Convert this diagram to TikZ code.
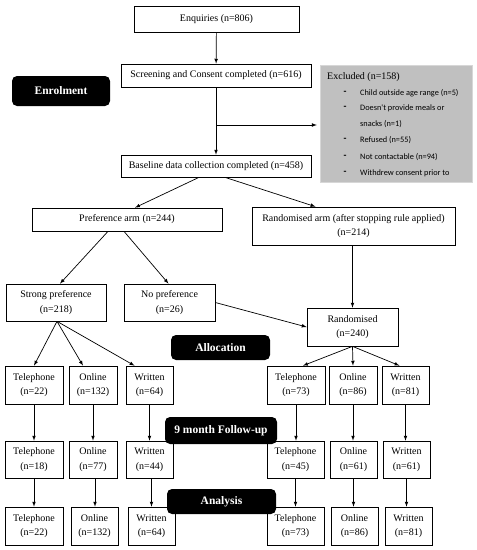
\documentclass[tikz,border=0pt]{standalone}
\usepackage{fontspec}
\setmainfont{Liberation Serif}
\newfontfamily\listfont{Carlito}
\usepackage{xcolor}
\definecolor{excludedgray}{RGB}{192,192,192}
\definecolor{excludedrim}{RGB}{215,215,215}
\tikzstyle{box}=[draw, line width=0.7pt, inner sep=0pt, align=center, font=\fontsize{10}{14.5}\selectfont]
\tikzstyle{stage}=[fill=black, rounded corners=5pt, inner sep=0pt, text=white, font=\fontsize{11.5}{13}\selectfont\bfseries]
\tikzset{flow/.style={-latex, line width=0.7pt}}
\tikzset{exitem/.style={anchor=west, inner sep=0pt, font=\listfont\fontsize{8.3}{10}\selectfont}}
\tikzset{exdash/.style={inner sep=0pt, font=\listfont\fontsize{9.5}{10}\selectfont\bfseries}}

\begin{document}
\begin{tikzpicture}[x=1pt,y=-1pt]
  \useasboundingbox (0,0) rectangle (477,550);

  %% Enrolment
  \draw (216.5,19) node[box,minimum width=165pt,minimum height=26pt] (enq) {Enquiries (n=806)};
  \draw (216,75.5) node[box,minimum width=190pt,minimum height=23pt] (scr) {Screening and Consent completed (n=616)};
  \draw (216,166) node[box,minimum width=190pt,minimum height=22pt] (base) {Baseline data collection completed (n=458)};
  \draw (61,91) node[stage,minimum width=98pt,minimum height=30pt] (enrol) {Enrolment};

  \draw (396,123.5) node[fill=excludedgray,draw=excludedrim,minimum width=152pt,minimum height=117pt] (excl) {};
  \draw (327,77) node[anchor=west,inner sep=0pt,font=\fontsize{10}{12}\selectfont] (exhead) {Excluded (n=158)};
  \draw (345,93) node[exdash] (ex1) {-};
  \draw (360,93) node[exitem] (ex1t) {Child outside age range (n=5)};
  \draw (345,108) node[exdash] (ex2) {-};
  \draw (360,108) node[exitem] (ex2t) {Doesn't provide meals or};
  \draw (360,124) node[exitem] (ex2u) {snacks (n=1)};
  \draw (345,140) node[exdash] (ex3) {-};
  \draw (360,140) node[exitem] (ex3t) {Refused (n=55)};
  \draw (345,157) node[exdash] (ex4) {-};
  \draw (360,157) node[exitem] (ex4t) {Not contactable (n=94)};
  \draw (345,173) node[exdash] (ex5) {-};
  \draw (360,173) node[exitem] (ex5t) {Withdrew consent prior to};

  \coordinate (exbranch) at (216,125);
  \draw[flow] (enq) -- (scr);
  \draw[flow] (scr) -- (base);
  \draw[flow,shorten >=3pt] (exbranch) -- (excl.west |- exbranch);

  %% Arms
  \draw (127,219.5) node[box,minimum width=190pt,minimum height=23pt] (pref) {Preference arm (n=244)};
  \draw (353.5,226) node[box,minimum width=203pt,minimum height=38pt] (rarm) {Randomised arm (after stopping rule applied)\\(n=214)};
  \draw (56,302.5) node[box,minimum width=100pt,minimum height=37pt] (strong) {Strong preference\\(n=218)};
  \draw (169.5,302.5) node[box,minimum width=91pt,minimum height=37pt] (nopref) {No preference\\(n=26)};
  \draw (352.5,327) node[box,minimum width=91pt,minimum height=38pt] (rand) {Randomised\\(n=240)};

  \draw[flow] ([xshift=-17pt]base.south) -- ([xshift=8pt]pref.north);
  \draw[flow] ([xshift=9pt]base.south) -- ([xshift=-38pt]rarm.north);
  \draw[flow] ([xshift=-19pt]pref.south) -- ([xshift=4pt]strong.north);
  \draw[flow] ([xshift=-3pt]pref.south) -- ([xshift=-1pt]nopref.north);
  \draw[flow] (nopref.east) -- (rand.west);
  \draw[flow] (rarm.south -| rand.north) -- (rand.north);

  %% Allocation
  \draw (34,385) node[box,minimum width=58pt,minimum height=38pt] (tel1) {Telephone\\(n=22)};
  \draw (93,385) node[box,minimum width=48pt,minimum height=38pt] (onl1) {Online\\(n=132)};
  \draw (149.5,385) node[box,minimum width=47pt,minimum height=38pt] (wri1) {Written\\(n=64)};
  \draw (296,385) node[box,minimum width=58pt,minimum height=38pt] (rtel1) {Telephone\\(n=73)};
  \draw (353,385) node[box,minimum width=48pt,minimum height=38pt] (ronl1) {Online\\(n=86)};
  \draw (405.5,385) node[box,minimum width=47pt,minimum height=38pt] (rwri1) {Written\\(n=81)};
  \draw (220.5,347.5) node[stage,minimum width=99pt,minimum height=25pt] (alloc) {Allocation};

  \draw[flow] ([xshift=1pt]strong.south) -- (tel1.north);
  \draw[flow] ([xshift=1pt]strong.south) -- ([xshift=-10pt]onl1.north);
  \draw[flow] ([xshift=1pt]strong.south) -- ([xshift=-15pt]wri1.north);
  \draw[flow] (rand.south) -- ([xshift=7pt]rtel1.north);
  \draw[flow] (rand.south) -- (ronl1.north);
  \draw[flow] (rand.south) -- ([xshift=-6pt]rwri1.north);

  %% 9 month follow-up
  \draw (34,459.5) node[box,minimum width=58pt,minimum height=37pt] (tel2) {Telephone\\(n=18)};
  \draw (93,459.5) node[box,minimum width=48pt,minimum height=37pt] (onl2) {Online\\(n=77)};
  \draw (149.5,459.5) node[box,minimum width=47pt,minimum height=37pt] (wri2) {Written\\(n=44)};
  \draw (295.5,459.5) node[box,minimum width=57pt,minimum height=37pt] (rtel2) {Telephone\\(n=45)};
  \draw (353.5,459.5) node[box,minimum width=47pt,minimum height=37pt] (ronl2) {Online\\(n=61)};
  \draw (406.5,459.5) node[box,minimum width=47pt,minimum height=37pt] (rwri2) {Written\\(n=61)};
  \draw (221,430.5) node[stage,minimum width=112pt,minimum height=27pt] (follow) {9 month Follow-up};

  \draw[flow] (tel1) -- (tel2);
  \draw[flow] (onl1) -- (onl2);
  \draw[flow] (wri1) -- (wri2);
  \draw[flow] (rtel1) -- (rtel1 |- rtel2.north);
  \draw[flow] (ronl1) -- (ronl1 |- ronl2.north);
  \draw[flow] (rwri1) -- (rwri1 |- rwri2.north);

  %% Analysis
  \draw (34,526) node[box,minimum width=58pt,minimum height=38pt] (tel3) {Telephone\\(n=22)};
  \draw (94.5,526) node[box,minimum width=47pt,minimum height=38pt] (onl3) {Online\\(n=132)};
  \draw (151.5,526) node[box,minimum width=47pt,minimum height=38pt] (wri3) {Written\\(n=64)};
  \draw (295.5,526) node[box,minimum width=57pt,minimum height=38pt] (rtel3) {Telephone\\(n=73)};
  \draw (354.5,526) node[box,minimum width=47pt,minimum height=38pt] (ronl3) {Online\\(n=86)};
  \draw (408.5,526) node[box,minimum width=47pt,minimum height=38pt] (rwri3) {Written\\(n=81)};

  \draw[flow] (tel2) -- (tel2 |- tel3.north);
  \draw[flow] ([xshift=2pt]onl2.south) -- ([xshift=2pt]onl2.south |- onl3.north);
  \draw[flow] ([xshift=2pt]wri2.south) -- ([xshift=2pt]wri2.south |- wri3.north);
  \draw[flow] (rtel2) -- (rtel2 |- rtel3.north);
  \draw[flow] (ronl2) -- (ronl2 |- ronl3.north);
  \draw[flow] (rwri2) -- (rwri2 |- rwri3.north);
  \draw (221.5,501.5) node[stage,minimum width=109pt,minimum height=25pt] (analysis) {Analysis};
\end{tikzpicture}
\end{document}
